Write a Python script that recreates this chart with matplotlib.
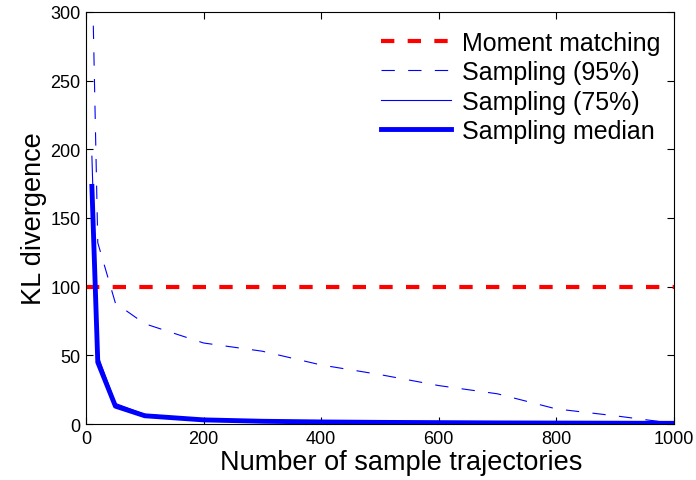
import numpy as np
import matplotlib
matplotlib.use("Agg")
import matplotlib.pyplot as plt

plt.rcParams['font.family'] = ['Liberation Sans', 'DejaVu Sans']

# numero de trayectorias muestreadas
n_samples = [10, 20, 50, 100, 200, 300, 400, 500, 600, 700, 800, 900, 1000]
moment_matching = 100
kl_95 = [340, 132, 88, 73, 59, 53, 43, 36, 28, 22, 11, 6, 0.5]
kl_75 = [195, 50, 15, 7, 3.5, 2.5, 2, 1.5, 1.2, 1.0, 0.8, 0.7, 0.6]
kl_median = [173, 45, 13, 6, 3, 2, 1.5, 1.2, 1.0, 0.8, 0.7, 0.6, 0.5]

fig = plt.figure(figsize=(6.96, 4.81), dpi=100)
ax = fig.add_axes([0.1236, 0.1164, 0.8444, 0.8566])

ax.plot([0, 1000], [moment_matching, moment_matching], color='red', lw=3,
        dashes=(3.2, 3.2), label='Moment matching')
ax.plot(n_samples, kl_95, color='blue', lw=0.8, dashes=(12, 12), label='Sampling (95%)')
ax.plot(n_samples, kl_75, color='blue', lw=0.8, label='Sampling (75%)')
ax.plot(n_samples, kl_median, color='blue', lw=3.5, label='Sampling median')

ax.set_xlim(0, 1000)
ax.set_ylim(0, 300)
ax.set_xticks(np.arange(0, 1001, 200))
ax.set_yticks(np.arange(0, 301, 50))
ax.tick_params(direction='in', top=True, right=True, length=5, labelsize=13, pad=4)
ax.set_xlabel('Number of sample trajectories', fontsize=19.5, labelpad=0)
ax.xaxis.set_label_coords(0.536, -0.06, transform=ax.transAxes)
ax.xaxis.label.set_va('top')
ax.set_ylabel('KL divergence', fontsize=19.5, labelpad=2)
ax.legend(loc='upper right', bbox_to_anchor=(1.007, 0.997), frameon=False, fontsize=18,
          handlelength=2.8, handletextpad=0.45, labelspacing=0.22, borderaxespad=0.3)

fig.savefig('out.png', dpi=100)
